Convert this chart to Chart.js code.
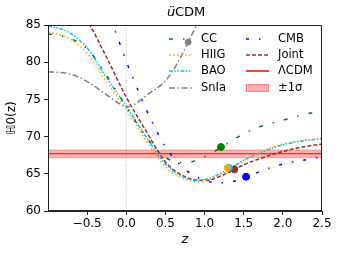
<!DOCTYPE html>
<html lang="en">
<head>
  <meta charset="UTF-8">
  <title>uCDM H0(z)</title>
  <script src="https://cdn.jsdelivr.net/npm/chart.js"></script>
  <style>
    body { margin: 0; background: #fff; }
    #wrap { width: 340px; height: 255px; }
  </style>
</head>
<body>
  <div id="wrap"><canvas id="hzChart" width="340" height="255"></canvas></div>

  <script>
    // values
    const xTicks = [-0.5, 0, 0.5, 1, 1.5, 2, 2.5];
    const yTicks = [60, 65, 70, 75, 80, 85];

    const zCC = [-1, -0.75, -0.5, -0.25, 0, 0.25, 0.5, 0.75, 1, 1.25, 1.5, 1.75, 2, 2.25, 2.5];
    const hCC = [83.8, 83.3, 81.8, 78.2, 74.0, 70.0, 67.2, 66.5, 67.3, 68.8, 70.4, 71.5, 72.2, 72.9, 73.5];

    const zHIIG = [-1, -0.75, -0.5, -0.25, 0, 0.25, 0.5, 0.75, 0.9, 1, 1.25, 1.5, 1.75, 2, 2.25, 2.5];
    const hHIIG = [84.0, 83.3, 81.2, 77.3, 73.7, 69.5, 65.9, 64.3, 63.9, 64.0, 65.2, 66.8, 68.1, 69.0, 69.5, 69.8];

    const zBAO = [-1, -0.75, -0.5, -0.25, 0, 0.25, 0.5, 0.75, 0.9, 1, 1.25, 1.5, 1.75, 2, 2.25, 2.5];
    const hBAO = [84.9, 84.1, 81.9, 77.9, 74.1, 70.0, 66.3, 64.5, 64.1, 64.2, 65.3, 66.8, 68.0, 68.9, 69.4, 69.7];

    const zSnIa = [-1, -0.75, -0.5, -0.25, -0.1, 0, 0.1, 0.25, 0.5, 0.65, 0.79, 0.9, 1.0];
    const hSnIa = [78.7, 78.5, 77.4, 75.6, 74.5, 74.0, 74.3, 75.5, 77.5, 79.8, 82.7, 85.0, 87.0];

    const zCMB = [-0.2, -0.1, 0, 0.1, 0.2, 0.3, 0.4, 0.5, 0.6, 0.75, 1, 1.25, 1.5, 1.75, 2, 2.25, 2.5];
    const hCMB = [85.8, 83.0, 80.1, 77.5, 75.0, 72.6, 70.5, 68.6, 67.2, 65.6, 64.1, 63.8, 64.4, 65.5, 66.3, 66.8, 67.3];

    const zJoint = [-1, -0.75, -0.5, -0.25, 0, 0.25, 0.5, 0.75, 1, 1.25, 1.5, 1.75, 2, 2.25, 2.5];
    const hJoint = [91.0, 88.9, 85.6, 80.6, 75.3, 70.8, 66.6, 64.6, 64.1, 64.9, 66.2, 67.2, 68.0, 68.6, 69.0];

    const h0LCDM = 67.7;
    const h0Low = 67.15;
    const h0High = 68.2;

    // best-fit markers (z, H)
    const markCC = [1.21, 68.6];
    const markHIIG = [1.29, 65.8];
    const markBAO = [1.31, 65.8];
    const markJoint = [1.38, 65.6];
    const markCMB = [1.53, 64.6];
    const markSnIa = [0.79, 82.7];

    const pts = (zs, hs) => zs.map((z, i) => ({ x: z, y: hs[i] }));
    const flat = v => [{ x: -1, y: v }, { x: 2.5, y: v }];

    function curve(label, zs, hs, color, dash, width) {
      return {
        label: label, data: pts(zs, hs), borderColor: color, backgroundColor: color,
        borderDash: dash, borderWidth: width, pointRadius: 0, fill: false,
        cubicInterpolationMode: 'monotone', order: 5
      };
    }
    function marker(m, color, r) {
      return {
        label: '', data: [{ x: m[0], y: m[1] }], showLine: false, pointRadius: r,
        pointBackgroundColor: color, pointBorderColor: color, order: 1
      };
    }

    const dsCC = curve('CC', zCC, hCC, '#008000', [4, 10, 1.5, 10], 1.5);
    const dsHIIG = curve('HIIG', zHIIG, hHIIG, '#ffa500', [1.5, 2.5], 1.5);
    const dsBAO = curve('BAO', zBAO, hBAO, '#00bfff', [4, 1.5, 1.5, 1.5, 1.5, 1.5], 1.5);
    const dsSnIa = curve('SnIa', zSnIa, hSnIa, '#808080', [6, 2.5, 1.5, 2.5], 1.5);
    const dsCMB = curve('CMB', zCMB, hCMB, '#0000ff', [3, 10, 1.5, 10], 1.5);
    const dsJoint = curve('Joint', zJoint, hJoint, '#a52a2a', [4, 2], 1.5);

    const dsLow = {
      label: '', data: flat(h0Low), borderColor: 'rgba(255,0,0,0.3)', borderWidth: 1,
      pointRadius: 0, fill: false, order: 8
    };
    const dsHigh = {
      label: '±1σ', data: flat(h0High), borderColor: 'rgba(255,0,0,0.3)', borderWidth: 1,
      backgroundColor: 'rgba(255,0,0,0.3)', pointRadius: 0, fill: '-1', order: 8
    };
    const dsLCDM = {
      label: 'ΛCDM', data: flat(h0LCDM), borderColor: '#ff0000', borderWidth: 1,
      pointRadius: 0, fill: false, order: 7
    };
    const dsZero = {
      label: '', data: [{ x: 0, y: 60 }, { x: 0, y: 85 }], borderColor: '#bbbbbb',
      borderWidth: 1, borderDash: [1, 1.5], pointRadius: 0, fill: false, order: 9
    };

    // legend entries, column-major like matplotlib ncol=2
    const legendCols = [
      [['CC', '#008000', [4, 10, 1.5, 10]], ['HIIG', '#ffa500', [1.5, 2.5]],
       ['BAO', '#00bfff', [4, 1.5, 1.5, 1.5, 1.5, 1.5]], ['SnIa', '#808080', [6, 2.5, 1.5, 2.5]]],
      [['CMB', '#0000ff', [3, 10, 1.5, 10]], ['Joint', '#a52a2a', [4, 2]],
       ['ΛCDM', '#ff0000', []], ['±1σ', null, null]]
    ];

    const extras = {
      id: 'extras',
      afterDraw(chart) {
        const c = chart.ctx, a = chart.chartArea;
        c.save();
        // frame
        c.strokeStyle = '#222';
        c.lineWidth = 1;
        c.strokeRect(a.left + 0.5, a.top + 0.5, a.right - a.left - 1, a.bottom - a.top - 1);

        // title and axis labels
        c.fillStyle = '#000';
        c.textAlign = 'center';
        c.textBaseline = 'middle';
        c.font = 'italic 13px "DejaVu Sans"';
        c.fillText('ü', 171, 13);
        c.font = '13px "DejaVu Sans"';
        c.textAlign = 'left';
        c.fillText('CDM', 175, 13);
        c.textAlign = 'center';
        c.font = 'italic 13px "DejaVu Sans"';
        c.fillText('z', 185, 240);
        c.translate(12, 118);
        c.rotate(-Math.PI / 2);
        c.font = '12px "DejaVu Sans"';
        c.fillText('ℍ0(z)', 0, 0);
        c.restore();

        // legend
        c.save();
        c.font = '11.5px "DejaVu Sans"';
        c.textBaseline = 'middle';
        c.textAlign = 'left';
        const colX = [169, 246], rowY = [39, 55, 71, 88], len = 23;
        legendCols.forEach((col, ci) => {
          col.forEach((item, ri) => {
            const x0 = colX[ci], y = rowY[ri];
            if (item[1] === null) {
              c.fillStyle = 'rgba(255,0,0,0.3)';
              c.fillRect(x0, y - 4, len, 8);
              c.strokeStyle = 'rgba(255,0,0,0.3)';
              c.lineWidth = 1;
              c.strokeRect(x0 + 0.5, y - 3.5, len - 1, 7);
            } else {
              c.strokeStyle = item[1];
              c.lineWidth = 1.5;
              c.setLineDash(item[2]);
              c.beginPath();
              c.moveTo(x0, y);
              c.lineTo(x0 + len, y);
              c.stroke();
              c.setLineDash([]);
            }
            c.fillStyle = '#000';
            c.fillText(item[0], x0 + len + 9, y);
          });
        });
        c.restore();
      }
    };

    const ctx = document.getElementById('hzChart').getContext('2d');
    const hzChart = new Chart(ctx, {
      type: 'line',
      data: {
        datasets: [
          dsLow, dsHigh, dsLCDM, dsZero,
          dsCC, dsHIIG, dsBAO, dsSnIa, dsCMB, dsJoint,
          marker(markCC, '#008000', 3.5), marker(markHIIG, '#ffa500', 3),
          marker(markBAO, '#00bfff', 3.5), marker(markJoint, '#a52a2a', 3.5),
          marker(markCMB, '#0000ff', 3.5), marker(markSnIa, '#808080', 3)
        ]
      },
      options: {
        responsive: false,
        animation: false,
        layout: { padding: { top: 25, right: 18, bottom: 0, left: 0 } },
        plugins: { legend: { display: false }, tooltip: { enabled: false } },
        scales: {
          x: {
            type: 'linear', min: -1, max: 2.5,
            afterBuildTicks: s => { s.ticks = xTicks.map(v => ({ value: v })); },
            afterFit: s => { s.height = 44; },
            grid: { drawOnChartArea: false, tickLength: 4, color: '#222' },
            border: { color: '#222' },
            ticks: {
              color: '#000', padding: 2, maxRotation: 0,
              font: { family: 'DejaVu Sans', size: 12 },
              callback: v => v.toFixed(1).replace('-', '−')
            }
          },
          y: {
            type: 'linear', min: 60, max: 85,
            afterBuildTicks: s => { s.ticks = yTicks.map(v => ({ value: v })); },
            afterFit: s => { s.width = 48; },
            grid: { drawOnChartArea: false, tickLength: 4, color: '#222' },
            border: { color: '#222' },
            ticks: {
              color: '#000', padding: 3,
              font: { family: 'DejaVu Sans', size: 12 },
              callback: v => String(v)
            }
          }
        }
      },
      plugins: [extras]
    });
  </script>
</body>
</html>
